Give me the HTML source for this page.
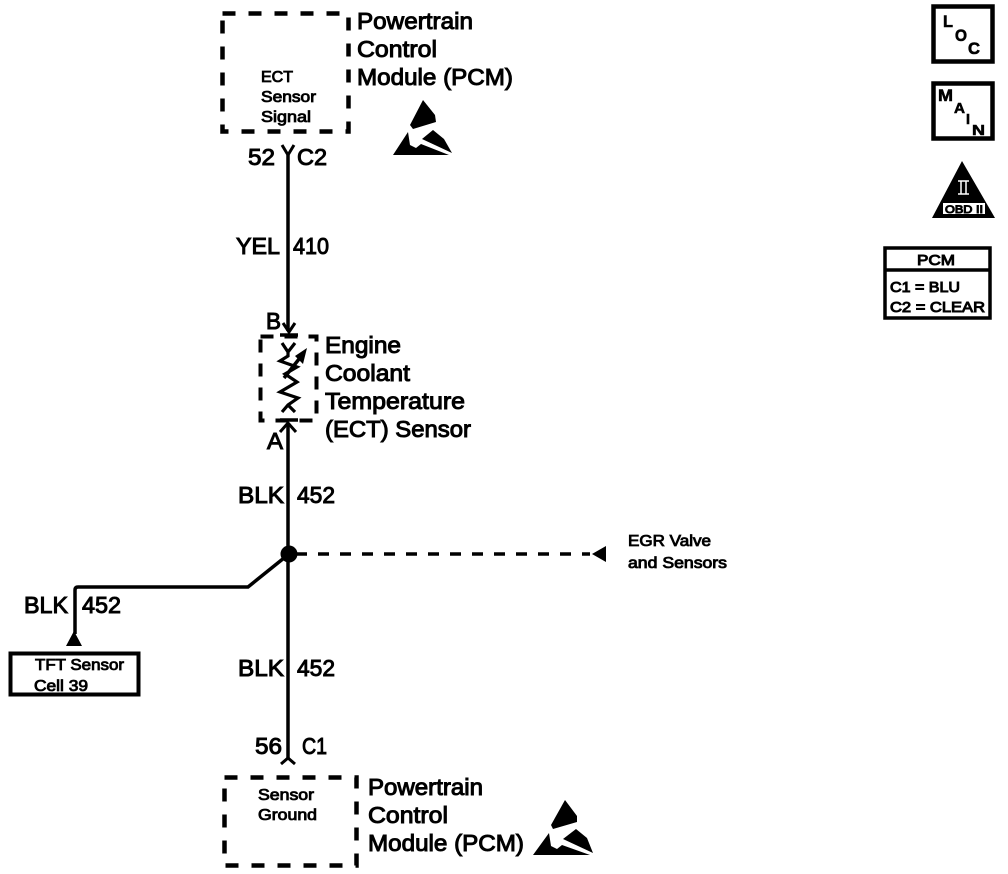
<!DOCTYPE html>
<html><head><meta charset="utf-8"><style>
html,body{margin:0;padding:0;background:#fff}
svg{display:block}
text{font-family:"Liberation Sans",sans-serif;fill:#000;stroke:#000;stroke-width:1}
.l{font-size:23px}.m{font-size:23.5px}.s{font-size:15.5px;stroke-width:.85}
.b{font-weight:bold;stroke-width:.6}
</style></head><body>
<svg width="1008" height="874" viewBox="0 0 1008 874" xmlns="http://www.w3.org/2000/svg">
<g fill="none" stroke="#000" stroke-width="4">
<rect x="222.500" y="13.500" width="126" height="118" stroke-width="4.500" stroke-dasharray="13 13"/>
<rect x="260.500" y="336.500" width="56" height="84" stroke-width="4" stroke-dasharray="13 11"/>
<rect x="224.500" y="777.500" width="132" height="88" stroke-width="4.500" stroke-dasharray="13 13"/>
<path d="M288 155V331M288 425V760M289 554L248 587H78Q75 587 75 590V634" stroke-width="3.500"/>
<path d="M282 145L288 155L294 145" stroke-width="3"/>
<path d="M281 764L288 758L295 764" stroke-width="3"/>
<path d="M296 554H590" stroke-width="3.500" stroke-dasharray="11 11"/>
<path d="M280 335H298M280 420H298" stroke-width="3.500"/>
<path d="M283 323L289 332L295 323M280 432L288 423L296 432" stroke-width="3"/>
<path d="M282 343L288 352L295 343M288 352V356L280 361L297 367L285 374L297 382L280 392L298 398L288 405L282 412M288 405L295 412" stroke-width="3.200"/>
<path d="M284 378L303 354" stroke-width="3.500"/>
<rect x="10.500" y="653.500" width="128" height="41" stroke-width="4"/>
<rect x="933.500" y="6.500" width="59" height="55" stroke-width="4.500"/>
<rect x="933.500" y="83.500" width="59" height="55" stroke-width="4.500"/>
<rect x="885" y="248" width="105" height="70" stroke-width="3.500"/>
<path d="M885 270H990" stroke-width="3.500"/>
</g>
<circle cx="289" cy="554" r="8.500"/>
<path d="M307 348L295 356L303 364Z"/>
<path d="M74 631L82 646H66Z"/>
<path d="M592 554L606 546V562Z"/>
<path d="M423 100L435 115L436 122L413 129L410 125Z"/>
<path d="M393 155L408 132L410 145L416 148L421 144L449 155Z"/>
<path d="M433 130L444 139L452 153L422 139Z"/>
<path d="M565 800L577 816L577 822L553 829L551 825Z"/>
<path d="M533 855L549 833L551 846L557 849L562 845L590 855Z"/>
<path d="M576 829L587 838L593 853L563 839Z"/>
<path d="M962 161L995 218H932Z"/>
<rect x="943" y="203" width="42" height="11" fill="#fff"/>
<path d="M958 181H969M958 194H969M961 181V194M966 181V194" stroke="#fff" stroke-width="1.500" fill="none"/>
<text x="357" y="29" class="l" lengthAdjust="spacingAndGlyphs" textLength="116">Powertrain</text>
<text x="357" y="57" class="l" lengthAdjust="spacingAndGlyphs" textLength="80">Control</text>
<text x="357" y="85" class="l" lengthAdjust="spacingAndGlyphs" textLength="156">Module (PCM)</text>
<text x="261" y="82" class="s" lengthAdjust="spacingAndGlyphs" textLength="32">ECT</text>
<text x="261" y="102" class="s" lengthAdjust="spacingAndGlyphs" textLength="55">Sensor</text>
<text x="261" y="122" class="s" lengthAdjust="spacingAndGlyphs" textLength="50">Signal</text>
<text x="248" y="165" class="m" lengthAdjust="spacingAndGlyphs" textLength="27">52</text>
<text x="297" y="165" class="m" lengthAdjust="spacingAndGlyphs" textLength="30">C2</text>
<text x="236" y="254" class="m" lengthAdjust="spacingAndGlyphs" textLength="44">YEL</text>
<text x="293" y="254" class="m" lengthAdjust="spacingAndGlyphs" textLength="36">410</text>
<text x="266" y="329" class="m" lengthAdjust="spacingAndGlyphs" textLength="15">B</text>
<text x="267" y="449" class="m" lengthAdjust="spacingAndGlyphs" textLength="16">A</text>
<text x="325" y="353" class="l" lengthAdjust="spacingAndGlyphs" textLength="76">Engine</text>
<text x="325" y="381" class="l" lengthAdjust="spacingAndGlyphs" textLength="85">Coolant</text>
<text x="325" y="409" class="l" lengthAdjust="spacingAndGlyphs" textLength="140">Temperature</text>
<text x="325" y="437" class="l" lengthAdjust="spacingAndGlyphs" textLength="146">(ECT) Sensor</text>
<text x="238" y="503" class="m" lengthAdjust="spacingAndGlyphs" textLength="46">BLK</text>
<text x="297" y="503" class="m" lengthAdjust="spacingAndGlyphs" textLength="38">452</text>
<text x="628" y="546" class="s" lengthAdjust="spacingAndGlyphs" textLength="83">EGR Valve</text>
<text x="628" y="568" class="s" lengthAdjust="spacingAndGlyphs" textLength="99">and Sensors</text>
<text x="24" y="613" class="m" lengthAdjust="spacingAndGlyphs" textLength="44">BLK</text>
<text x="82" y="613" class="m" lengthAdjust="spacingAndGlyphs" textLength="39">452</text>
<text x="35" y="670" class="s" lengthAdjust="spacingAndGlyphs" textLength="89">TFT Sensor</text>
<text x="34" y="691" class="s" lengthAdjust="spacingAndGlyphs" textLength="54">Cell 39</text>
<text x="238" y="676" class="m" lengthAdjust="spacingAndGlyphs" textLength="46">BLK</text>
<text x="297" y="676" class="m" lengthAdjust="spacingAndGlyphs" textLength="38">452</text>
<text x="255" y="754" class="m" lengthAdjust="spacingAndGlyphs" textLength="27">56</text>
<text x="302" y="754" class="m" lengthAdjust="spacingAndGlyphs" textLength="25">C1</text>
<text x="258" y="800" class="s" lengthAdjust="spacingAndGlyphs" textLength="56">Sensor</text>
<text x="258" y="820" class="s" lengthAdjust="spacingAndGlyphs" textLength="59">Ground</text>
<text x="368" y="795" class="l" lengthAdjust="spacingAndGlyphs" textLength="115">Powertrain</text>
<text x="368" y="823" class="l" lengthAdjust="spacingAndGlyphs" textLength="80">Control</text>
<text x="368" y="851" class="l" lengthAdjust="spacingAndGlyphs" textLength="156">Module (PCM)</text>
<text x="943" y="27" font-size="17" class="b" lengthAdjust="spacingAndGlyphs" textLength="10">L</text>
<text x="955" y="41" font-size="17" class="b" lengthAdjust="spacingAndGlyphs" textLength="12">O</text>
<text x="968" y="54" font-size="17" class="b" lengthAdjust="spacingAndGlyphs" textLength="12">C</text>
<text x="938" y="101" font-size="17" class="b" lengthAdjust="spacingAndGlyphs" textLength="15">M</text>
<text x="954" y="113" font-size="15" class="b" lengthAdjust="spacingAndGlyphs" textLength="11">A</text>
<text x="966" y="124" font-size="15" class="b" lengthAdjust="spacingAndGlyphs" textLength="4">I</text>
<text x="972" y="135" font-size="15" class="b" lengthAdjust="spacingAndGlyphs" textLength="13">N</text>
<text x="945" y="213" font-size="11" lengthAdjust="spacingAndGlyphs" textLength="38" stroke-width=".5">OBD II</text>
<text x="917" y="265" font-size="15" lengthAdjust="spacingAndGlyphs" textLength="38">PCM</text>
<text x="890" y="292" font-size="15" lengthAdjust="spacingAndGlyphs" textLength="70">C1 = BLU</text>
<text x="890" y="312" font-size="15" lengthAdjust="spacingAndGlyphs" textLength="95">C2 = CLEAR</text>
</svg>
</body></html>
